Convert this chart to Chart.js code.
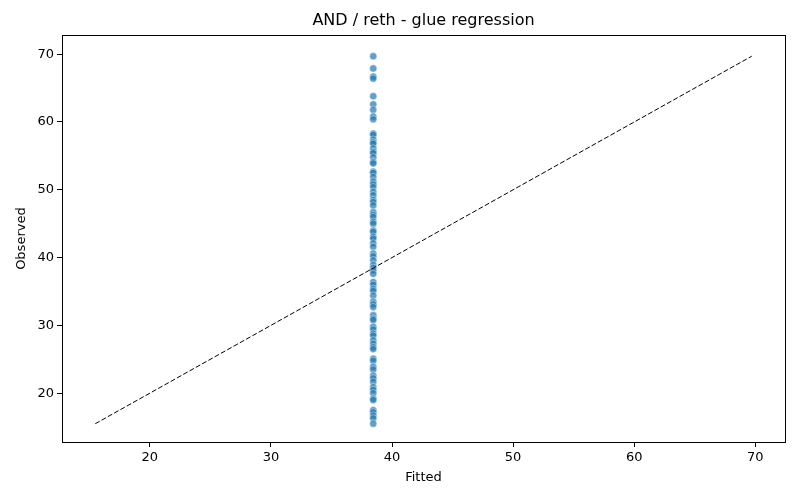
<!DOCTYPE html>
<html>
<head>
<meta charset="utf-8">
<script src="https://cdn.jsdelivr.net/npm/chart.js@4"></script>
<style>
html,body{margin:0;padding:0;background:#fff;}
#wrap{width:800px;height:500px;}
</style>
</head>
<body>
<div id="wrap"><canvas id="c" width="800" height="500"></canvas></div>
<script>
const chartTitle = "AND / reth - glue regression";
const xLabel = "Fitted";
const yLabel = "Observed";
const fittedValue = 38.45;
const observed = [69.7, 67.9, 66.7, 66.4, 63.8, 62.6, 61.8, 60.8, 60.4, 58.3, 58.1, 57.4, 57.0, 56.8, 56.1, 55.6, 55.4, 54.8, 54.1, 53.9, 52.7, 52.5, 51.9, 51.2, 50.8, 50.4, 49.7, 49.2, 48.5, 48.2, 47.7, 46.7, 46.3, 46.0, 45.3, 45.0, 44.0, 43.8, 43.1, 42.8, 42.1, 41.6, 40.6, 40.2, 39.6, 38.9, 38.5, 38.1, 37.6, 36.4, 36.0, 35.4, 35.1, 34.4, 33.5, 33.1, 32.7, 31.5, 31.0, 30.8, 29.8, 29.4, 28.8, 28.5, 27.8, 27.3, 26.8, 26.5, 25.1, 24.8, 23.9, 23.5, 22.6, 22.2, 21.7, 20.9, 20.5, 20.0, 19.2, 19.0, 17.5, 17.2, 16.7, 16.3, 15.5];
const refLine = [15.5, 69.7];
const xTicks = [20, 30, 40, 50, 60, 70];
const yTicks = [20, 30, 40, 50, 60, 70];

const FONT = "'DejaVu Sans', sans-serif";

const boxPlugin = {
  id: 'box',
  afterLayout(chart) {
    const t = chart.titleBlock;
    if (t) {
      t.left = chart.chartArea.left;
      t.right = chart.chartArea.right;
      t.width = t.right - t.left;
    }
  },
  afterDraw(chart) {
    const a = chart.chartArea, ctx = chart.ctx;
    ctx.save();
    ctx.strokeStyle = '#000';
    ctx.lineWidth = 1;
    ctx.strokeRect(Math.round(a.left) + 0.5, Math.round(a.top) + 0.5, Math.round(a.right - a.left), Math.round(a.bottom - a.top));
    ctx.restore();
  }
};

new Chart(document.getElementById('c'), {
  data: {
    datasets: [
      {
        type: 'scatter',
        order: 1,
        data: observed.map(v => ({x: fittedValue, y: v})),
        backgroundColor: 'rgba(31,119,180,0.7)',
        borderColor: 'rgba(255,255,255,0.8)',
        borderWidth: 0.5,
        pointRadius: 3.6
      },
      {
        type: 'line',
        order: 0,
        data: refLine.map(v => ({x: v, y: v})),
        borderColor: '#000',
        borderWidth: 1,
        borderDash: [5, 2.2],
        pointRadius: 0,
        fill: false
      }
    ]
  },
  options: {
    responsive: false,
    animation: false,
    layout: {padding: {left: 0, right: 15, top: 0, bottom: 0}},
    plugins: {
      legend: {display: false},
      tooltip: {enabled: false},
      title: {
        display: true,
        text: chartTitle,
        color: '#000',
        font: {family: FONT, size: 16, weight: 'normal', lineHeight: 1.2},
        padding: {top: 11, bottom: 5}
      }
    },
    scales: {
      x: {
        type: 'linear',
        min: 12.75,
        max: 72.45,
        afterFit(s) { s.height = 58; },
        afterBuildTicks(s) { s.ticks = xTicks.map(v => ({value: v})); },
        grid: {drawOnChartArea: false, drawTicks: true, tickLength: 5, color: '#000'},
        border: {display: true, color: '#000'},
        ticks: {color: '#000', font: {family: FONT, size: 13}, padding: 3, maxRotation: 0},
        title: {display: true, text: xLabel, color: '#000', font: {family: FONT, size: 13}, padding: {top: 0, bottom: 15}}
      },
      y: {
        type: 'linear',
        min: 12.8,
        max: 72.8,
        afterFit(s) { s.width = 62; },
        afterBuildTicks(s) { s.ticks = yTicks.map(v => ({value: v})); },
        grid: {drawOnChartArea: false, drawTicks: true, tickLength: 5, color: '#000'},
        border: {display: true, color: '#000'},
        ticks: {color: '#000', font: {family: FONT, size: 13}, padding: 3},
        title: {display: true, text: yLabel, color: '#000', font: {family: FONT, size: 13}, padding: {top: 14, bottom: 0}}
      }
    }
  },
  plugins: [boxPlugin]
});
</script>
</body>
</html>
